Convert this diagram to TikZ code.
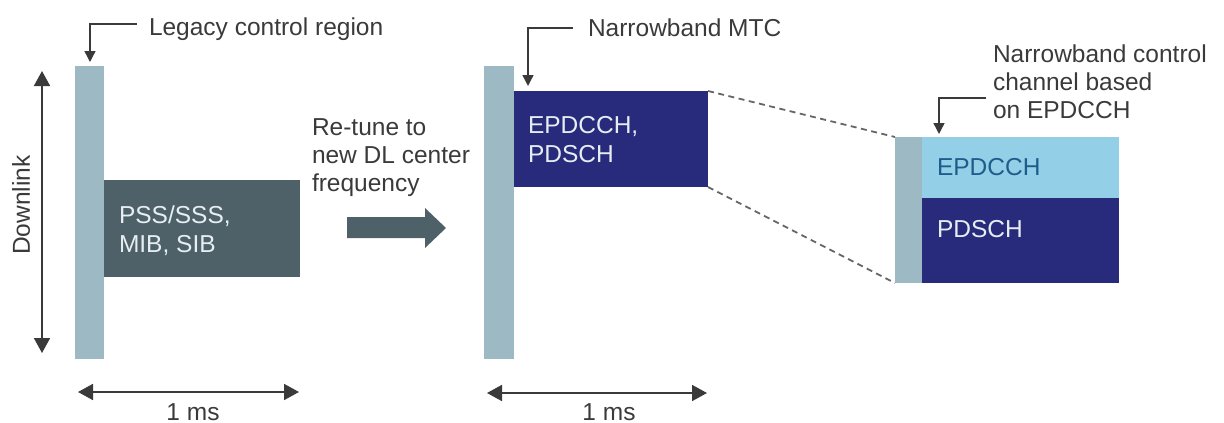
\documentclass[tikz,border=0pt]{standalone}
\usepackage{fontspec}
\setmainfont{Liberation Sans}
\usetikzlibrary{arrows.meta}
\definecolor{barc}{HTML}{9DBAC4}
\definecolor{slate}{HTML}{4E6169}
\definecolor{navy}{HTML}{282B7C}
\definecolor{sky}{HTML}{93D0E8}
\definecolor{epd}{HTML}{1E5C8C}
\definecolor{txt}{HTML}{3A3A3A}
\definecolor{lbl}{HTML}{E6EEF2}
\definecolor{dashc}{HTML}{666666}
\newcommand{\mlines}[1]{\begin{tabular}[t]{@{}l@{}}#1\end{tabular}}
\begin{document}
\begin{tikzpicture}[x=1pt,y=-1pt,
  blk/.style={inner sep=0pt, outer sep=0pt, anchor=north west, draw=none},
  lab/.style={font=\fontsize{24.5}{28}\selectfont, text=txt, inner sep=0pt, outer sep=0pt, anchor=base west},
  inlab/.style={font=\fontsize{24.5}{29.5}\selectfont, inner sep=0pt, outer sep=0pt, anchor=base west},
  callout/.style={draw=txt, line width=1.4pt, -{Triangle[length=11pt,width=11pt]}},
  span/.style={draw=txt, line width=1.8pt, {Triangle[length=15pt,width=16pt]}-{Triangle[length=15pt,width=16pt]}},
  zoomline/.style={draw=dashc, line width=1.8pt, dash pattern=on 6pt off 4.5pt}
]
\useasboundingbox (0,0) rectangle (1224,423);

% left diagram
\node[blk, fill=barc, minimum width=29pt, minimum height=293pt] (bar1) at (75,66) {};
\node[blk, fill=slate, minimum width=196pt, minimum height=97pt] (pss) at (104,180) {};
\node[inlab, text=lbl] (psstext) at (119,223) {\mlines{PSS/SSS,\\MIB, SIB}};
\node[lab] (legacy) at (149,35) {Legacy control region};
\coordinate (legtip) at (90,62);
\draw[callout] (legacy.west |- 0,24) ++(-12,0) -| (legtip);

\coordinate (dlt) at (42,71);
\coordinate (dlb) at (42,353);
\draw[span] (dlt) -- (dlb);
\node[font=\fontsize{24.5}{28}\selectfont, text=txt, rotate=90, inner sep=0pt] (dl) at (21,205) {Downlink};

\coordinate (ms1l) at (78,392);
\coordinate (ms1r) at (299,392);
\draw[span] (ms1l) -- (ms1r);
\node[lab, anchor=base] (ms1) at (193,420) {1 ms};

% retune
\node[lab] (retune) at (312,135) {\mlines{Re-tune to\\new DL center\\frequency}};
\fill[slate] (347,217) -- (425,217) -- (425,208) -- (446,228) -- (425,248) -- (425,238) -- (347,238) -- cycle;

% middle diagram
\node[blk, fill=barc, minimum width=30pt, minimum height=293pt] (bar2) at (484,66) {};
\node[blk, fill=navy, minimum width=194pt, minimum height=96pt] (mtc) at (514,91) {};
\node[inlab, text=lbl] (mtctext) at (528,133) {\mlines{EPDCCH,\\PDSCH}};
\node[lab] (nbmtc) at (588,36) {Narrowband MTC};
\coordinate (mtctip) at (528,86);
\draw[callout] (nbmtc.west |- 0,28) ++(-15,0) -| (mtctip);

\coordinate (ms2l) at (487,393);
\coordinate (ms2r) at (707,393);
\draw[span] (ms2l) -- (ms2r);
\node[lab, anchor=base] (ms2) at (609,420) {1 ms};

% right zoomed diagram
\node[blk, fill=barc, minimum width=27pt, minimum height=146pt] (strip) at (895,137) {};
\node[blk, fill=sky, minimum width=197pt, minimum height=61pt] (epdcch) at (922,137) {};
\node[blk, fill=navy, minimum width=197pt, minimum height=85pt] (pdsch) at (922,198) {};
\node[inlab, text=epd] (epdtext) at (937,175) {EPDCCH};
\node[inlab, text=lbl] (pdtext) at (937,237) {PDSCH};
\node[lab] (nbcc) at (993,62) {\mlines{Narrowband control\\channel based\\on EPDCCH}};
\coordinate (cctip) at (939,134);
\draw[callout] (986,98) -| (cctip);

\draw[zoomline] (mtc.north east) -- (strip.north west);
\draw[zoomline] (mtc.south east) -- (strip.south west);
\end{tikzpicture}
\end{document}
